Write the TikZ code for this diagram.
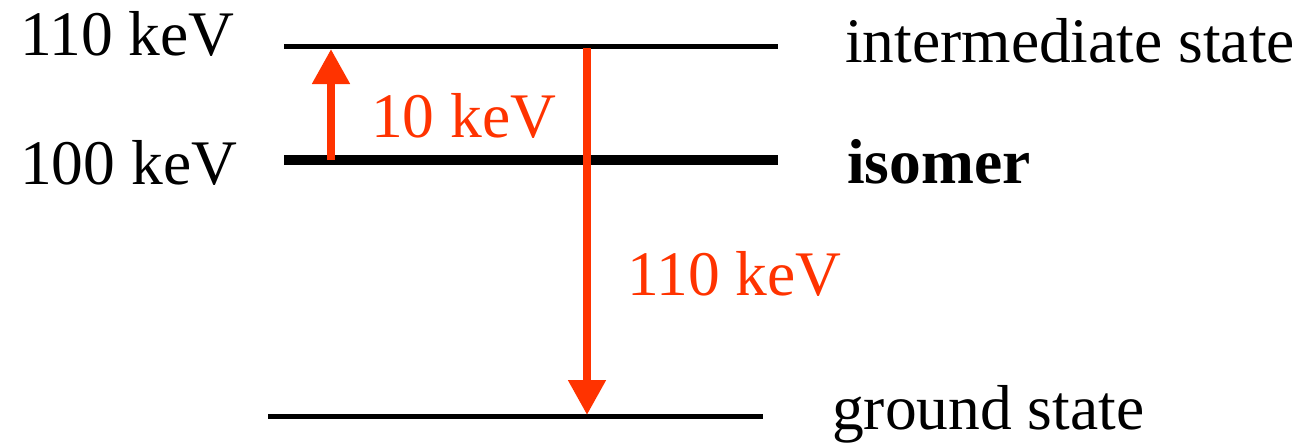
\documentclass[tikz,border=0pt]{standalone}
\usepackage{fontspec}
\setmainfont{Liberation Serif}
\usetikzlibrary{arrows.meta}
\definecolor{hot}{RGB}{255,51,0}
\begin{document}
\begin{tikzpicture}[x=1pt,y=-1pt,
  lab/.style={inner sep=0pt,anchor=base west,font=\fontsize{63.5}{70}\selectfont},
  redlab/.style={lab,text=hot},
  level/.style={line width=5pt,black},
  isolevel/.style={line width=10pt,black},
  trans/.style={hot,line width=8pt,-{Triangle[width=36pt,length=35pt]}}]
\useasboundingbox (0,0) rectangle (1301,444);
% levels
\coordinate (iL) at (284,47);  \coordinate (iR) at (778,47);
\coordinate (mL) at (284,160); \coordinate (mR) at (778,160);
\coordinate (gL) at (268,416); \coordinate (gR) at (763,416);
\draw[level] (iL) -- (iR);
\draw[isolevel] (mL) -- (mR);
\draw[level] (gL) -- (gR);
% transitions
\coordinate (upS) at (331,160); \coordinate (upE) at (331,49);
\coordinate (dnS) at (587,48);  \coordinate (dnE) at (587,415);
\draw[trans] (upS) -- (upE);
\draw[trans] (dnS) -- (dnE);
% labels
\node[lab] (e110) at (20,56) {110 keV};
\node[lab] (e100) at (20,184) {100 keV};
\node[lab] (tint) at (845,63) {intermediate state};
\node[lab,font=\fontsize{63.5}{70}\selectfont\bfseries] (tiso) at (847,183) {isomer};
\node[lab] (tgnd) at (832,429) {ground state};
\node[redlab] (r10) at (371,137) {10 keV};
\node[redlab] (r110) at (627,295) {110 keV};
\end{tikzpicture}
\end{document}
